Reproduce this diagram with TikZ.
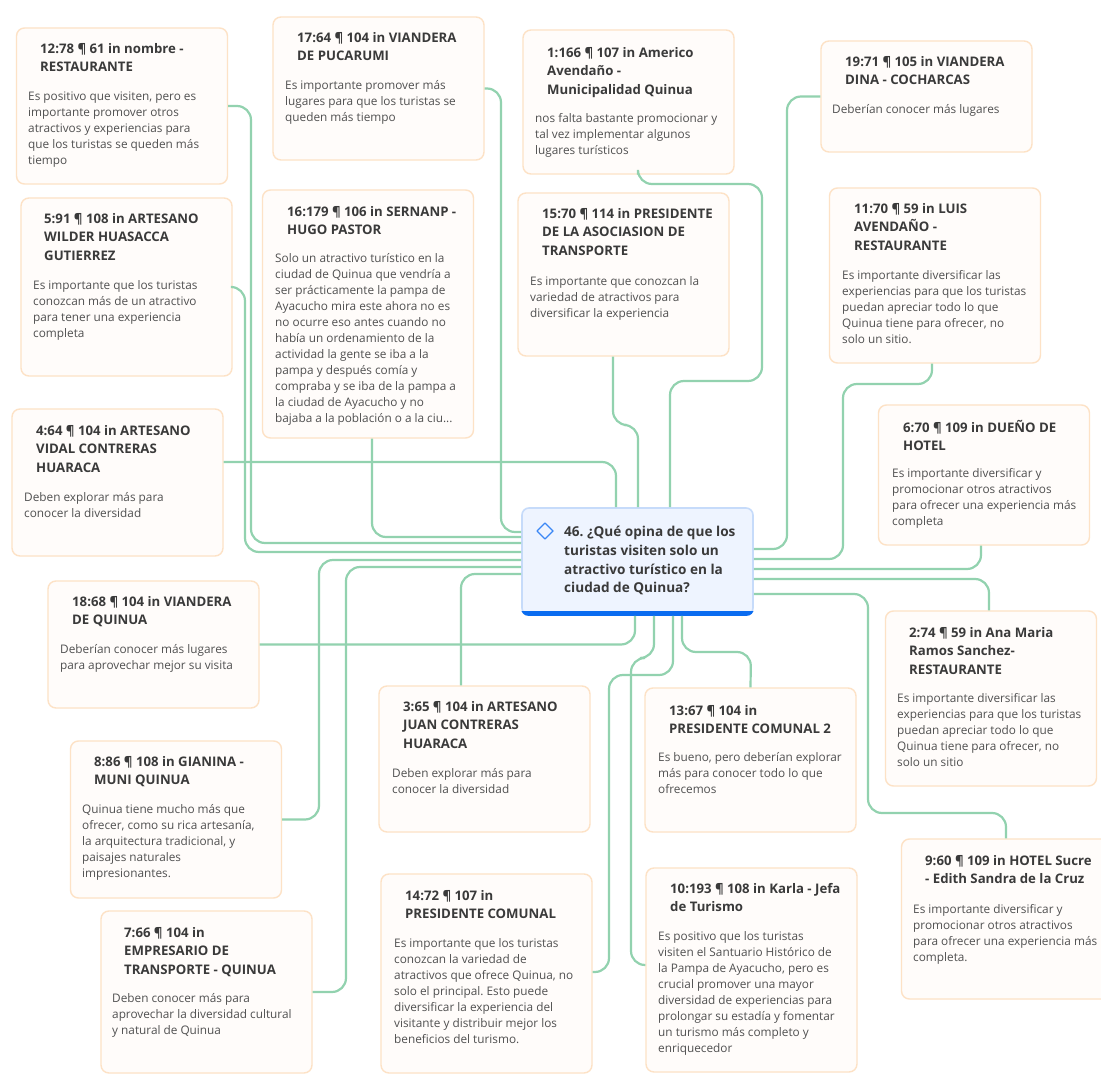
\documentclass[tikz,border=0pt]{standalone}
\usepackage{fontspec}
\setmainfont{Open Sans}
\frenchspacing
\definecolor{cardline}{HTML}{FDE2C6}
\definecolor{cardfill}{HTML}{FFFCFA}
\definecolor{ttlcol}{HTML}{3A3A3A}
\definecolor{txtcol}{HTML}{505050}
\definecolor{linkcol}{HTML}{92D2AF}
\definecolor{qfill}{HTML}{EEF4FF}
\definecolor{qline}{HTML}{C6DBFA}
\definecolor{qbar}{HTML}{0A6CF0}
\definecolor{qicon}{HTML}{3B87F5}
\tikzset{
  card/.style={draw=cardline, fill=cardfill, line width=1.4pt, rounded corners=8pt, minimum width=211pt, inner sep=0pt},
  qbox/.style={draw=qline, fill=qfill, line width=1.6pt, rounded corners=7pt, inner sep=0pt},
  ttl/.style={anchor=north west, inner sep=0pt, align=left, text=ttlcol, font={\fontsize{13.2}{18.5}\selectfont\bfseries}},
  txt/.style={anchor=north west, inner sep=0pt, align=left, text=txtcol, font={\fontsize{11.8}{16}\selectfont}},
  link/.style={draw=linkcol, line width=2.2pt, rounded corners=14pt}
}
\begin{document}
\begin{tikzpicture}[x=1pt,y=-1pt]
\path[use as bounding box, fill=white] (0,0) rectangle (1101,1075);

%Left column
\node[card, minimum height=156pt] (n12) at (122,106) {};
\node[ttl] (n12t) at (40,43) {12:78 ¶ 61 in nombre -\\RESTAURANTE};
\node[txt] (n12b) at (28,92) {Es positivo que visiten, pero es\\importante promover otros\\atractivos y experiencias para\\que los turistas se queden más\\tiempo};
\node[card, minimum height=178pt] (n5) at (126.5,287) {};
\node[ttl] (n5t) at (44,213) {5:91 ¶ 108 in ARTESANO\\WILDER HUASACCA\\GUTIERREZ};
\node[txt] (n5b) at (33,280) {Es importante que los turistas\\conozcan más de un atractivo\\para tener una experiencia\\completa};
\node[card, minimum height=147pt] (n4) at (117.5,482.5) {};
\node[ttl] (n4t) at (36,425) {4:64 ¶ 104 in ARTESANO\\VIDAL CONTRERAS\\HUARACA};
\node[txt] (n4b) at (24,492) {Deben explorar más para\\conocer la diversidad};
\node[card, minimum height=127pt] (n18) at (153.5,644.5) {};
\node[ttl] (n18t) at (72,596) {18:68 ¶ 104 in VIANDERA\\DE QUINUA};
\node[txt] (n18b) at (60,644) {Deberían conocer más lugares\\para aprovechar mejor su visita};
\node[card, minimum height=157pt] (n8) at (176,819.5) {};
\node[ttl] (n8t) at (94,756) {8:86 ¶ 108 in GIANINA -\\MUNI QUINUA};
\node[txt] (n8b) at (82,804) {Quinua tiene mucho más que\\ofrecer, como su rica artesanía,\\la arquitectura tradicional, y\\paisajes naturales\\impresionantes.};
\node[card, minimum height=162pt] (n7) at (206.5,992) {};
\node[ttl] (n7t) at (124,927) {7:66 ¶ 104 in\\EMPRESARIO DE\\TRANSPORTE - QUINUA};
\node[txt] (n7b) at (112,993) {Deben conocer más para\\aprovechar la diversidad cultural\\y natural de Quinua};

%Middle columns
\node[card, minimum height=143pt] (n17) at (378.5,88.5) {};
\node[ttl] (n17t) at (297,32) {17:64 ¶ 104 in VIANDERA\\DE PUCARUMI};
\node[txt] (n17b) at (285,80) {Es importante promover más\\lugares para que los turistas se\\queden más tiempo};
\node[card, minimum height=248pt] (n16) at (368,314) {};
\node[ttl] (n16t) at (287,206) {16:179 ¶ 106 in SERNANP -\\HUGO PASTOR};
\node[txt] (n16b) at (275,253) {Solo un atractivo turístico en la\\ciudad de Quinua que vendría a\\ser prácticamente la pampa de\\Ayacucho mira este ahora no es\\no ocurre eso antes cuando no\\había un ordenamiento de la\\actividad la gente se iba a la\\pampa y después comía y\\compraba y se iba de la pampa a\\la ciudad de Ayacucho y no\\bajaba a la población o a la ciu...};
\node[card, minimum height=146pt] (n3) at (484.5,759) {};
\node[ttl] (n3t) at (403,701) {3:65 ¶ 104 in ARTESANO\\JUAN CONTRERAS\\HUARACA};
\node[txt] (n3b) at (392,768) {Deben explorar más para\\conocer la diversidad};
\node[card, minimum height=199pt] (n14) at (486.5,973.5) {};
\node[ttl] (n14t) at (405,890) {14:72 ¶ 107 in\\PRESIDENTE COMUNAL};
\node[txt] (n14b) at (394,938) {Es importante que los turistas\\conozcan la variedad de\\atractivos que ofrece Quinua, no\\solo el principal. Esto puede\\diversificar la experiencia del\\visitante y distribuir mejor los\\beneficios del turismo.};
\node[card, minimum height=144pt] (n1) at (628.5,102) {};
\node[ttl] (n1t) at (547,47) {1:166 ¶ 107 in Americo\\Avendaño -\\Municipalidad Quinua};
\node[txt] (n1b) at (535,113) {nos falta bastante promocionar y\\tal vez implementar algunos\\lugares turísticos};
\node[card, minimum height=163pt] (n15) at (623.5,274.5) {};
\node[ttl] (n15t) at (542,208) {15:70 ¶ 114 in PRESIDENTE\\DE LA ASOCIASION DE\\TRANSPORTE};
\node[txt] (n15b) at (530,276) {Es importante que conozcan la\\variedad de atractivos para\\diversificar la experiencia};
\node[card, minimum height=144pt] (n13) at (750.5,760) {};
\node[ttl] (n13t) at (669,705) {13:67 ¶ 104 in\\PRESIDENTE COMUNAL 2};
\node[txt] (n13b) at (658,752) {Es bueno, pero deberían explorar\\más para conocer todo lo que\\ofrecemos};
\node[card, minimum height=204pt] (n10) at (751.5,970) {};
\node[ttl] (n10t) at (670,883) {10:193 ¶ 108 in Karla - Jefa\\de Turismo};
\node[txt] (n10b) at (658,931) {Es positivo que los turistas\\visiten el Santuario Histórico de\\la Pampa de Ayacucho, pero es\\crucial promover una mayor\\diversidad de experiencias para\\prolongar su estadía y fomentar\\un turismo más completo y\\enriquecedor};

%Right column
\node[card, minimum height=111pt] (n19) at (926.5,96.5) {};
\node[ttl] (n19t) at (845,56) {19:71 ¶ 105 in VIANDERA\\DINA - COCHARCAS};
\node[txt] (n19b) at (832,104) {Deberían conocer más lugares};
\node[card, minimum height=175pt] (n11) at (935,275.5) {};
\node[ttl] (n11t) at (854,203) {11:70 ¶ 59 in LUIS\\AVENDAÑO -\\RESTAURANTE};
\node[txt] (n11b) at (842,270) {Es importante diversificar las\\experiencias para que los turistas\\puedan apreciar todo lo que\\Quinua tiene para ofrecer, no\\solo un sitio.};
\node[card, minimum height=140pt] (n6) at (984,475) {};
\node[ttl] (n6t) at (903,420) {6:70 ¶ 109 in DUEÑO DE\\HOTEL};
\node[txt] (n6b) at (892,468) {Es importante diversificar y\\promocionar otros atractivos\\para ofrecer una experiencia más\\completa};
\node[card, minimum height=175pt] (n2) at (991,698.5) {};
\node[ttl] (n2t) at (909,627) {2:74 ¶ 59 in Ana Maria\\Ramos Sanchez-\\RESTAURANTE};
\node[txt] (n2b) at (897,693) {Es importante diversificar las\\experiencias para que los turistas\\puedan apreciar todo lo que\\Quinua tiene para ofrecer, no\\solo un sitio};
\node[card, minimum height=160pt] (n9) at (1007,919) {};
\node[ttl] (n9t) at (925,855) {9:60 ¶ 109 in HOTEL Sucre\\- Edith Sandra de la Cruz};
\node[txt] (n9b) at (913,904) {Es importante diversificar y\\promocionar otros atractivos\\para ofrecer una experiencia más\\completa.};

%Question
\node[qbox, minimum width=231pt, minimum height=107pt] (pregunta) at (637.5,561.5) {};
\begin{scope}
\clip[rounded corners=7pt] (pregunta.south west) rectangle (pregunta.north east);
\fill[qbar] (pregunta.south west) rectangle ([yshift=4.5pt]pregunta.south east);
\end{scope}
\draw[qicon, line width=1.4pt, line join=round] (545,523) -- (553,531) -- (545,539) -- (537,531) -- cycle;
\node[ttl, font={\fontsize{13.6}{18.7}\selectfont\bfseries}] (pregtxt) at (564,526) {46. ¿Qué opina de que los\\turistas visiten solo un\\atractivo turístico en la\\ciudad de Quinua?};

%Links left
\draw[link] (n12.east) -| (251,543) -- (pregunta.west |- 0,543);
\draw[link] (n5.east) -| (245,552) -- (pregunta.west |- 0,552);
\draw[link] (n4.east |- 0,462) -| (pregunta.north -| 616,0);
\draw[link] (n17.east) -| (501,532) -- (pregunta.west |- 0,532);
\draw[link] (n16.south -| 372,0) |- (pregunta.west |- 0,537);
\draw[link] (n3.north -| 461,0) |- (pregunta.west |- 0,574);
\draw[link] (n8.east) -| (319,560) -- (pregunta.west |- 0,560);
\draw[link] (n7.east) -| (346,567) -- (pregunta.west |- 0,567);
\draw[link] (n18.east) -| (pregunta.south -| 635,0);
%Links top
\draw[link] (n15.south -| 613,0) -- (613,425) -- (638,425) -- (pregunta.north -| 638,0);
\draw[link] (n1.south -| 638,0) |- (762,184) -- (762,381) -- (670,381) -- (pregunta.north -| 670,0);
%Links right
\draw[link] (n19.west) -| (787,549) -- (pregunta.east |- 0,549);
\draw[link] (n11.south -| 932,0) |- (843,384) -- (843,559) -- (pregunta.east |- 0,559);
\draw[link] (pregunta.east |- 0,569) -| (n6.south -| 981,0);
\draw[link] (pregunta.east |- 0,579) -| (n2.north -| 989,0);
\draw[link] (pregunta.east |- 0,594) -| (868,813) -| (n9.north -| 1006,0);
%Links bottom
\draw[link] (pregunta.south -| 654,0) -- (654,658) -- (631,658) -- (631,965) -- (n10.west |- 0,965);
\draw[link] (pregunta.south -| 673,0) -- (673,675) -- (609,675) -- (609,972) -- (n14.east |- 0,972);
\draw[link] (pregunta.south -| 682,0) -- (682,652) -- (751,652) -- (n13.north);
\end{tikzpicture}
\end{document}
